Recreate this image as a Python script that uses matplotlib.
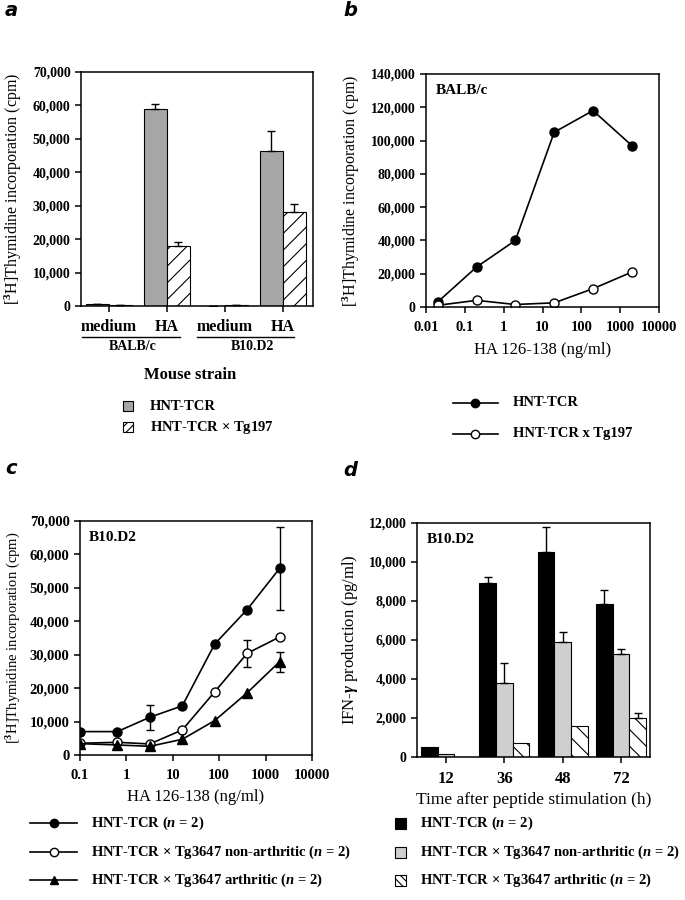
import numpy as np
import matplotlib
matplotlib.use("Agg")
from matplotlib import pyplot as plt
from matplotlib.patches import Rectangle

plt.rcParams['font.family'] = ['Liberation Serif', 'DejaVu Serif']
plt.rcParams['font.weight'] = 'bold'
plt.rcParams['mathtext.fontset'] = 'custom'
plt.rcParams['mathtext.rm'] = 'Liberation Serif:bold'
plt.rcParams['mathtext.bf'] = 'Liberation Serif:bold'
plt.rcParams['mathtext.it'] = 'Liberation Serif:italic:bold'
plt.rcParams['hatch.linewidth'] = 0.8

# ---- data ----
# panel a
a_groups = ['medium', 'HA', 'medium', 'HA']
a_strains = ['BALB/c', 'B10.D2']
a_hnt = [500, 59000, 100, 46500]
a_hnt_err = [0, 1500, 0, 6000]
a_tg = [200, 18000, 400, 28000]
a_tg_err = [0, 1000, 0, 2500]
a_labels = ['HNT-TCR', 'HNT-TCR $\\times$ Tg197']

# panel b
b_dose = [0.02, 0.2, 2, 20, 200, 2000]
b_hnt = [3000, 24000, 40000, 105000, 118000, 97000]
b_tg = [1000, 4000, 1500, 2500, 11000, 21000]
b_labels = ['HNT-TCR', 'HNT-TCR x Tg197']
b_ticks = [0.01, 0.1, 1, 10, 100, 1000, 10000]
b_ticklabels = ['0.01', '0.1', '1', '10', '100', '1000', '10000']

# panel c
c_dose = [0.1, 0.64, 3.2, 16, 80, 400, 2000]
c_hnt = [7000, 7000, 11300, 14700, 33200, 43500, 55800]
c_hnt_err = [0, 0, 3700, 0, 0, 0, 12300]
c_non = [3500, 3800, 3300, 7500, 18900, 30400, 35300]
c_non_err = [0, 0, 0, 0, 0, 4000, 0]
c_art = [3400, 3000, 2600, 4700, 10300, 18600, 27900]
c_art_err = [0, 0, 0, 0, 0, 0, 3000]
c_ticks = [0.1, 1, 10, 100, 1000, 10000]
c_ticklabels = ['0.1', '1', '10', '100', '1000', '10000']
cd_labels = ['HNT-TCR ($n$ = 2)',
             'HNT-TCR $\\times$ Tg3647 non-arthritic ($n$ = 2)',
             'HNT-TCR $\\times$ Tg3647 arthritic ($n$ = 2)']

# panel d
d_times = ['12', '36', '48', '72']
d_hnt = [500, 8900, 10500, 7850]
d_hnt_err = [0, 330, 1300, 700]
d_non = [150, 3800, 5900, 5300]
d_non_err = [0, 1000, 500, 220]
d_art = [0, 700, 1600, 2000]
d_art_err = [0, 0, 0, 260]

W, H = 685, 900
fig = plt.figure(figsize=(W / 100, H / 100), dpi=100)


def ax_px(x0, x1, ytop, ybot):
    return fig.add_axes([x0 / W, 1 - ybot / H, (x1 - x0) / W, (ybot - ytop) / H])


def style(ax, size=10):
    for s in ax.spines.values():
        s.set_linewidth(1.1)
    ax.tick_params(direction='out', length=4, width=1.1, labelsize=size)
    ax.minorticks_off()


def thousands(ax):
    ax.yaxis.set_major_formatter(matplotlib.ticker.FuncFormatter(lambda v, p: f'{int(v):,}'))


# overlay in pixel coords for legends / annotations
ov = fig.add_axes([0, 0, 1, 1], zorder=-1)
ov.set_xlim(0, W)
ov.set_ylim(H, 0)
ov.axis('off')

for lab, x, y in [('a', 5, 10), ('b', 343, 10), ('c', 5, 469), ('d', 343, 471)]:
    fig.text(x / W, 1 - y / H, lab, family='DejaVu Sans', style='italic',
             weight='bold', fontsize=14, va='center', ha='left')

# ---- panel a ----
ax = ax_px(81, 313, 72, 306)
xa = np.arange(len(a_groups))
bw = 0.4
ax.bar(xa - bw / 2, a_hnt, bw, color='#a6a6a6', edgecolor='k', linewidth=0.8)
ax.bar(xa + bw / 2, a_tg, bw, color='white', edgecolor='k', linewidth=0.8, hatch='//')
ax.errorbar(xa - bw / 2, a_hnt, yerr=[np.zeros(4), a_hnt_err], fmt='none',
            ecolor='k', elinewidth=1, capsize=3)
ax.errorbar(xa + bw / 2, a_tg, yerr=[np.zeros(4), a_tg_err], fmt='none',
            ecolor='k', elinewidth=1, capsize=3)
ax.set_xlim(-0.48, 3.52)
ax.set_ylim(0, 70000)
ax.set_yticks(np.arange(0, 70001, 10000))
thousands(ax)
ax.set_xticks(xa)
style(ax)
ax.set_xticklabels(a_groups, fontsize=11.5)
ax.tick_params(axis='x', pad=5)
ax.set_ylabel('[$^{3}$H]Thymidine incorporation (cpm)', fontsize=11.5, labelpad=6)
tr = ax.get_xaxis_transform()
ax.plot([-0.47, 1.22], [-0.132, -0.132], color='k', lw=1, transform=tr, clip_on=False)
ax.plot([1.52, 3.2], [-0.132, -0.132], color='k', lw=1, transform=tr, clip_on=False)
ax.text(0.41, -0.175, a_strains[0], transform=tr, ha='center', va='center', fontsize=10)
ax.text(2.48, -0.175, a_strains[1], transform=tr, ha='center', va='center', fontsize=10)
ax.text(1.4, -0.295, 'Mouse strain', transform=tr, ha='center', va='center', fontsize=12)

ov.add_patch(Rectangle((123, 401), 10, 10, facecolor='#a6a6a6', edgecolor='k', lw=0.8))
ov.add_patch(Rectangle((123, 422), 10, 10, facecolor='white', edgecolor='k', lw=0.8, hatch='////'))
ov.text(150, 406, a_labels[0], va='center', fontsize=10.5)
ov.text(150, 427, a_labels[1], va='center', fontsize=10.5)

# ---- panel b ----
ax = ax_px(426, 659, 74, 307)
ax.plot(b_dose, b_hnt, '-o', color='k', lw=1.2, ms=6.5, mfc='k')
ax.plot(b_dose, b_tg, '-o', color='k', lw=1.2, ms=6.5, mfc='white')
ax.set_xscale('log')
ax.set_xlim(0.01, 10000)
ax.set_ylim(0, 140000)
ax.set_yticks(np.arange(0, 140001, 20000))
thousands(ax)
ax.set_xticks(b_ticks)
ax.set_xticklabels(b_ticklabels)
style(ax)
ax.tick_params(axis='x', pad=6, labelsize=10.5)
ax.set_ylabel('[$^{3}$H]Thymidine incorporation (cpm)', fontsize=11.5, labelpad=6)
ax.set_xlabel('HA 126-138 (ng/ml)', fontsize=12, labelpad=6)
ax.text(0.04, 0.93, 'BALB/c', transform=ax.transAxes, fontsize=11, va='center')

for y, mfc, lab in [(403, 'k', b_labels[0]), (434, 'white', b_labels[1])]:
    ov.plot([453, 498], [y, y], color='k', lw=1.2)
    ov.plot([475], [y], 'o', color='k', mfc=mfc, ms=6)
    ov.text(513, y, lab, va='center', fontsize=10.5)

# ---- panel c ----
ax = ax_px(80, 312, 521, 755)
series = [(c_hnt, c_hnt_err, 'o', 'k'), (c_non, c_non_err, 'o', 'white'),
          (c_art, c_art_err, '^', 'k')]
for vals, err, m, mfc in series:
    ax.plot(c_dose, vals, '-' + m, color='k', lw=1.2, ms=6.5, mfc=mfc, zorder=3)
    e = np.array(err)
    sel = e > 0
    ax.errorbar(np.array(c_dose)[sel], np.array(vals)[sel], yerr=e[sel], fmt='none',
                ecolor='k', elinewidth=1, capsize=3, zorder=2)
ax.set_xscale('log')
ax.set_xlim(0.1, 10000)
ax.set_ylim(0, 70000)
ax.set_yticks(np.arange(0, 70001, 10000))
thousands(ax)
ax.set_xticks(c_ticks)
ax.set_xticklabels(c_ticklabels)
style(ax, 10.5)
ax.tick_params(axis='x', pad=6)
ax.set_ylabel('[$^{3}$H]Thymidine incorporation (cpm)', fontsize=10.5, labelpad=5)
ax.set_xlabel('HA 126-138 (ng/ml)', fontsize=12, labelpad=5)
ax.text(0.04, 0.93, 'B10.D2', transform=ax.transAxes, fontsize=11, va='center')

for (vals, err, m, mfc), y, lab in zip(series, [823, 852, 880], cd_labels):
    ov.plot([30, 77], [y, y], color='k', lw=1.2)
    ov.plot([54], [y], m, color='k', mfc=mfc, ms=6)
    ov.text(91, y, lab, va='center', fontsize=10.5)

# ---- panel d ----
ax = ax_px(417, 650, 523, 757)
xd = np.arange(len(d_times))
bw = 0.286
ax.bar(xd - bw, d_hnt, bw, color='k', edgecolor='k', linewidth=0.8)
ax.bar(xd, d_non, bw, color='#cfcfcf', edgecolor='k', linewidth=0.8)
art = np.array(d_art)
ax.bar(xd[art > 0] + bw, art[art > 0], bw, color='white', edgecolor='k',
       linewidth=0.8, hatch='\\\\')
for off, vals, err in [(-bw, d_hnt, d_hnt_err), (0, d_non, d_non_err), (bw, d_art, d_art_err)]:
    e = np.array(err)
    sel = e > 0
    ax.errorbar(xd[sel] + off, np.array(vals)[sel], yerr=[np.zeros(sel.sum()), e[sel]],
                fmt='none', ecolor='k', elinewidth=1, capsize=3)
ax.set_xlim(-0.5, 3.5)
ax.set_ylim(0, 12000)
ax.set_yticks(np.arange(0, 12001, 2000))
thousands(ax)
ax.set_xticks(xd)
style(ax)
ax.set_xticklabels(d_times, fontsize=12)
ax.tick_params(axis='x', pad=6)
ax.set_ylabel('IFN-$\\gamma$ production (pg/ml)', fontsize=12, labelpad=6)
ax.set_xlabel('Time after peptide stimulation (h)', fontsize=12.5, labelpad=4)
ax.text(0.04, 0.93, 'B10.D2', transform=ax.transAxes, fontsize=11, va='center')

for (fc, hatch), y, lab in zip([('k', None), ('#cfcfcf', None), ('white', '\\\\\\\\')],
                               [823, 852, 880], cd_labels):
    ov.add_patch(Rectangle((395, y - 5), 11, 11, facecolor=fc, edgecolor='k', lw=0.8, hatch=hatch))
    ov.text(420, y, lab, va='center', fontsize=10.5)

fig.savefig('out.png', dpi=100)
